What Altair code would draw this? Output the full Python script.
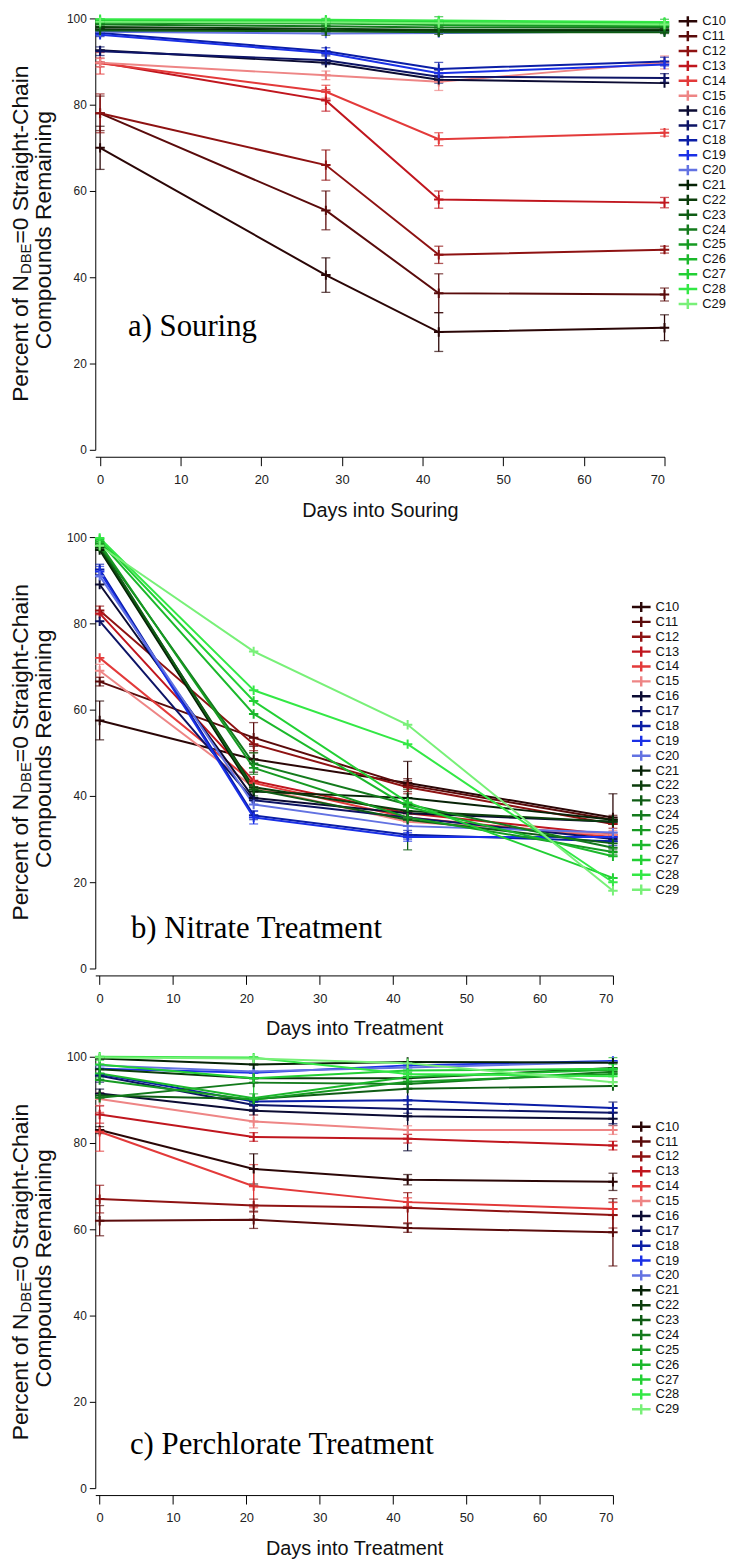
import altair as alt
import pandas as pd

SERIES = ["C10", "C11", "C12", "C13", "C14", "C15", "C16", "C17", "C18", "C19",
          "C20", "C21", "C22", "C23", "C24", "C25", "C26", "C27", "C28", "C29"]
COLORS = ["#2a0606", "#5a0b0b", "#8e1212", "#c0161e", "#e33a3a", "#ee8585",
          "#0b0b33", "#0d1466", "#0b1ea6", "#1a30e6", "#6272e2",
          "#062206", "#0b3d0b", "#0e5c14", "#137a1c", "#169a22", "#1bb82b",
          "#22d034", "#33e845", "#78f078"]

X_TICKS = [0, 10, 20, 30, 40, 50, 60, 70]
Y_TICKS = [0, 20, 40, 60, 80, 100]

# ---------- a) Souring ----------
DAYS_A = [0, 28, 42, 70]
VALS_A = {
    "C10": [70, 40.5, 27.3, 28.3],
    "C11": [78, 55.5, 36.3, 36],
    "C12": [78, 66, 45.2, 46.4],
    "C13": [89.8, 81, 58, 57.3],
    "C14": [89.6, 83, 72, 73.5],
    "C15": [89.7, 86.8, 85.3, 89.8],
    "C16": [92.6, 89.7, 85.8, 85],
    "C17": [92.4, 90.3, 86.5, 86.2],
    "C18": [96.6, 92.4, 88.3, 90],
    "C19": [96.2, 92, 87.3, 89.3],
    "C20": [96.9, 96.5, 96.6, 97],
    "C21": [97.5, 97.2, 97, 97.2],
    "C22": [98, 97.6, 97.3, 97.5],
    "C23": [97.2, 97, 96.8, 96.8],
    "C24": [98.6, 98.2, 97.9, 98],
    "C25": [99, 98.8, 98.5, 98.3],
    "C26": [99.3, 99.2, 98.9, 98.6],
    "C27": [99.6, 99.5, 99.2, 99],
    "C28": [99.8, 99.7, 99.5, 99.2],
    "C29": [99.2, 99.1, 98.9, 98.6],
}
ERR_A = {
    "C10": [5, 4, 4.5, 3],
    "C11": [4, 4.5, 4.5, 1.5],
    "C12": [4.5, 3.5, 2, 0.8],
    "C13": [1, 2.5, 2, 1.2],
    "C14": [2.5, 1.5, 1.5, 0.8],
    "C15": [1, 1, 2, 1.5],
    "C17": [1, 1, 1.5, 1],
    "C18": [0.8, 0.8, 1.5, 1],
    "C22": [0.8, 1.5, 1, 1],
    "C26": [0.6, 0.8, 1.5, 1.2],
}

# ---------- b) Nitrate ----------
DAYS_B = [0, 21, 42, 70]
VALS_B = {
    "C10": [57.5, 48.5, 43, 35],
    "C11": [66.5, 53.5, 42.5, 34.5],
    "C12": [83, 52, 42, 33.5],
    "C13": [82.3, 43.5, 36, 31],
    "C14": [72, 43, 35, 30.5],
    "C15": [69, 42, 34, 31],
    "C16": [89, 39.5, 36, 34],
    "C17": [80.5, 39, 35, 30],
    "C18": [92.5, 35.5, 31, 29.5],
    "C19": [92, 35, 30.5, 30.5],
    "C20": [91, 38, 33, 31.5],
    "C21": [97, 41, 39.5, 34.5],
    "C22": [97.5, 42, 36.5, 34],
    "C23": [98, 41.5, 34.5, 29],
    "C24": [98, 47.5, 38, 28],
    "C25": [98.5, 46.5, 35, 27],
    "C26": [99, 59, 37.5, 26],
    "C27": [99.5, 62, 38.5, 21],
    "C28": [99.8, 64.5, 52, 20],
    "C29": [98, 73.5, 56.5, 18],
}
ERR_B = {
    "C10": [4.5, 3, 5, 5.5],
    "C11": [1, 3.5, 1.5, 1],
    "C12": [1, 1.5, 1.5, 1],
    "C15": [1.5, 1, 1, 1],
    "C18": [1.2, 1, 1, 1],
    "C19": [1.2, 1.5, 1, 1],
    "C23": [1, 1.5, 7, 1.5],
    "C24": [1, 2.5, 1.5, 1.5],
}

# ---------- c) Perchlorate ----------
DAYS_C = [0, 21, 42, 70]
VALS_C = {
    "C10": [83, 74, 71.5, 71],
    "C11": [62, 62.2, 60.3, 59.3],
    "C12": [67, 65.5, 65, 63.3],
    "C13": [86.6, 81.4, 81, 79.4],
    "C14": [82.6, 70, 66.3, 64.7],
    "C15": [90.2, 85, 83, 83],
    "C16": [91.5, 87.5, 86.2, 85.6],
    "C17": [95.6, 88.8, 87.9, 87],
    "C18": [96, 89.6, 89.9, 88.1],
    "C19": [97.2, 96.3, 98, 99],
    "C20": [98, 96.6, 97.5, 98.8],
    "C21": [99.6, 98.2, 98.8, 98.6],
    "C22": [97.1, 95, 95, 97.4],
    "C23": [91, 90.2, 92.6, 93.2],
    "C24": [90.5, 94, 93.7, 96.5],
    "C25": [94.6, 90, 94.2, 96],
    "C26": [96.1, 90.4, 95.3, 97],
    "C27": [98.2, 95, 96.8, 97.2],
    "C28": [100, 99.8, 96, 95.5],
    "C29": [99.8, 99.6, 98.5, 94.1],
}
ERR_C = {
    "C10": [0.8, 3.5, 1.2, 2],
    "C11": [3.5, 2, 1, 7.8],
    "C12": [3.2, 1.5, 3.5, 3],
    "C13": [2, 1, 1, 1],
    "C14": [4.5, 5, 1, 1.5],
    "C15": [1.5, 1.5, 1, 1],
    "C16": [1, 1, 8, 1.5],
    "C17": [1.5, 1, 1, 2.5],
    "C26": [1, 1, 1, 2.8],
    "C27": [1, 5, 1, 1],
}

FONT = "Liberation Sans"
SERIF = "Liberation Serif"
CROSS = "M-1,0L1,0M0,-1L0,1"
LEG_SYM = "M-1.2,0L1.2,0M0,-0.65L0,0.65"
H = 435

# Arial/Liberation Sans advance widths (per 1000 em) for title layout
AW = {" ": 278, "P": 667, "e": 556, "r": 333, "c": 500, "n": 556, "t": 278, "o": 556,
      "f": 278, "N": 722, "D": 722, "B": 667, "E": 667, "=": 584, "0": 556, "S": 667,
      "a": 556, "i": 222, "g": 556, "h": 556, "-": 333, "C": 722}


def tw(s, size):
    return sum(AW.get(ch, 556) for ch in s) * size / 1000.0


def frames(days, vals, errs):
    rows, erows = [], []
    for s in SERIES:
        for i, d in enumerate(days):
            v = vals[s][i]
            rows.append({"series": s, "day": d, "value": v})
            if s in errs:
                e = errs[s][i]
                erows.append({"series": s, "day": d, "lo": v - e, "hi": v + e})
    return pd.DataFrame(rows), pd.DataFrame(erows)


one = pd.DataFrame({"k": [0]})


def panel(days, vals, errs, width, xtitle, label, label_xy, leg_xy, ylx):
    df, edf = frames(days, vals, errs)
    color = alt.Color(
        "series:N",
        scale=alt.Scale(domain=SERIES, range=COLORS),
        sort=SERIES,
        legend=alt.Legend(
            orient="none", legendX=leg_xy[0], legendY=leg_xy[1], title=None,
            symbolType=LEG_SYM, symbolSize=250, symbolStrokeWidth=2.5,
            symbolOpacity=1, clipHeight=15.0,
            labelFontSize=13, labelFont=FONT, labelColor="#111",
            rowPadding=0, labelOffset=5, padding=0,
        ),
    )
    x = alt.X(
        "day:Q",
        scale=alt.Scale(domain=[-0.6, 70], nice=False, zero=False),
        axis=alt.Axis(values=X_TICKS, title=xtitle, offset=7, tickSize=9,
                      labelFontSize=13, labelPadding=8, titleFontSize=20,
                      titleFont=FONT, titleFontWeight="normal", titlePadding=14,
                      titleColor="#111"),
    )
    y = alt.Y(
        "value:Q",
        scale=alt.Scale(domain=[0, 100], nice=False),
        axis=alt.Axis(values=Y_TICKS, title=None, tickSize=6, labelFontSize=12,
                      labelPadding=3),
    )
    lines = alt.Chart(df).mark_line(strokeWidth=2).encode(x=x, y=y, color=color)
    points = alt.Chart(df).mark_point(shape=CROSS, filled=False, size=90,
                                      strokeWidth=2, opacity=1).encode(
        x="day:Q", y="value:Q", color=color)
    rule = alt.Chart(edf).mark_rule(strokeWidth=1.3).encode(
        x="day:Q", y="lo:Q", y2="hi:Q", color=color)
    tlo = alt.Chart(edf).mark_tick(orient="horizontal", size=9, thickness=1.3).encode(
        x="day:Q", y="lo:Q", color=color)
    thi = alt.Chart(edf).mark_tick(orient="horizontal", size=9, thickness=1.3).encode(
        x="day:Q", y="hi:Q", color=color)

    # panel label
    lab = alt.Chart(one).mark_text(font=SERIF, fontSize=31, align="left",
                                   baseline="middle", color="#000", text=label).encode(
        x=alt.value(label_xy[0]), y=alt.value(label_xy[1]))

    # y title, line 1 with subscript
    fs, fsub = 23, 15
    p1, p2, p3 = "Percent of N", "DBE", "=0 Straight-Chain"
    w1, w2, w3 = tw(p1, fs), tw(p2, fsub), tw(p3, fs)
    W = w1 + w2 + w3
    bottom = H / 2 + W / 2
    t1 = alt.Chart(one).mark_text(font=FONT, fontSize=fs, angle=270, align="left",
                                  baseline="middle", color="#111", text=p1).encode(
        x=alt.value(ylx), y=alt.value(bottom))
    t2 = alt.Chart(one).mark_text(font=FONT, fontSize=fsub, angle=270, align="left",
                                  baseline="middle", color="#111", text=p2).encode(
        x=alt.value(ylx + 5), y=alt.value(bottom - w1 - 1))
    t3 = alt.Chart(one).mark_text(font=FONT, fontSize=fs, angle=270, align="left",
                                  baseline="middle", color="#111", text=p3).encode(
        x=alt.value(ylx), y=alt.value(bottom - w1 - w2 - 1))
    t4 = alt.Chart(one).mark_text(font=FONT, fontSize=fs, angle=270, align="center",
                                  baseline="middle", color="#111",
                                  text="Compounds Remaining").encode(
        x=alt.value(ylx + 23), y=alt.value(H / 2 - 4))

    return alt.layer(rule, tlo, thi, lines, points, lab, t1, t2, t3, t4).properties(
        width=width, height=H)


pa = panel(DAYS_A, VALS_A, ERR_A, 574, "Days into Souring", "a) Souring",
           (33, 311), (588, -4.6), -75)
pb = panel(DAYS_B, VALS_B, ERR_B, 522, "Days into Treatment", "b) Nitrate Treatment",
           (36, 395), (541, 63), -75)
pc = panel(DAYS_C, VALS_C, ERR_C, 522, "Days into Treatment",
           "c) Perchlorate Treatment", (35, 392), (541, 63), -75)

chart = alt.vconcat(pa, pb, pc, spacing=9).resolve_scale(
    color="independent").resolve_legend(color="independent").properties(
    padding={"left": 1, "top": -4, "right": 0, "bottom": 0}
).configure_view(stroke=None).configure_axis(
    grid=False, domainColor="#000", tickColor="#000", labelColor="#222",
    labelFont=FONT, domainWidth=1, tickWidth=1
)

chart.save("out.html", embed_options={"renderer": "svg", "actions": False})
